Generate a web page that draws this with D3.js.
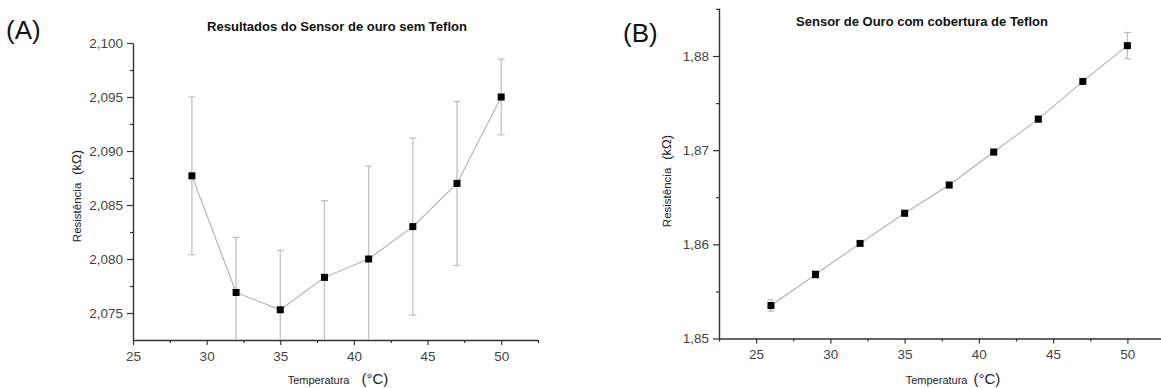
<!DOCTYPE html>
<html>
<head>
<meta charset="utf-8">
<script src="https://cdn.jsdelivr.net/npm/d3@7"></script>
<style>
  html, body { margin: 0; padding: 0; background: #fff; }
  svg { display: block; font-family: Arial, "Liberation Sans", sans-serif; }
</style>
</head>
<body>
<div id="chart"></div>
<script>
// panel A: sensor without Teflon
const tempA = [29, 32, 35, 38, 41, 44, 47, 50];
const resA = [2.0877, 2.0769, 2.0753, 2.0783, 2.0800, 2.0830, 2.0870, 2.0950];
const errA = [0.0073, 0.0051, 0.0055, 0.0071, 0.0086, 0.0082, 0.0076, 0.0035];
const yTicksA = [2.075, 2.080, 2.085, 2.090, 2.095, 2.100];
const xTicksA = [25, 30, 35, 40, 45, 50];

// panel B: sensor with Teflon cover
const tempB = [26, 29, 32, 35, 38, 41, 44, 47, 50];
const resB = [1.8535, 1.8568, 1.8601, 1.8633, 1.8663, 1.8698, 1.8733, 1.8773, 1.8811];
const errB = [0.0006, 0.0004, 0.0002, 0.0003, 0.0003, 0.0003, 0.0003, 0.0003, 0.0014];
const yTicksB = [1.85, 1.86, 1.87, 1.88];
const xTicksB = [25, 30, 35, 40, 45, 50];

const W = 1161, H = 388;
const fmtComma = (digits) => d => d.toFixed(digits).replace('.', ',');

const svg = d3.select('#chart').append('svg')
  .attr('width', W)
  .attr('height', H);

function drawPanel(p) {
  const x = d3.scaleLinear().domain(p.xDomain).range([p.left, p.right]);
  const y = d3.scaleLinear().domain(p.yDomain).range([p.bottom, p.top]);

  const g = svg.append('g');

  // clip marks to plotting area (error bars run below the axis in A)
  const clipId = 'clip-' + p.id;
  g.append('clipPath').attr('id', clipId)
    .append('rect')
    .attr('x', p.left).attr('y', 0)
    .attr('width', p.right - p.left).attr('height', p.bottom);

  // x axis with major + minor ticks
  const xMinor = d3.range(p.xDomain[0], p.xDomain[1] + 0.01, 2.5).filter(v => !p.xTicks.includes(v));
  g.append('g')
    .attr('transform', `translate(0,${p.bottom})`)
    .call(d3.axisBottom(x).tickValues(xMinor).tickSize(3).tickFormat(''))
    .call(a => a.select('.domain').remove())
    .call(a => a.selectAll('line').attr('stroke', '#333').attr('stroke-width', 1.2));
  g.append('g')
    .attr('transform', `translate(0,${p.bottom})`)
    .call(d3.axisBottom(x).tickValues(p.xTicks).tickSize(5).tickSizeOuter(0).tickPadding(6))
    .call(a => a.select('.domain').attr('stroke', '#333').attr('stroke-width', 1.4))
    .call(a => a.selectAll('line').attr('stroke', '#333').attr('stroke-width', 1.2))
    .call(a => a.selectAll('text').attr('fill', '#444').style('font-size', '13.5px'));

  // y axis with major + minor ticks
  const yStep = p.yTicks[1] - p.yTicks[0];
  const yMinor = p.yTicks.map(v => v + yStep / 2).filter(v => v < p.yDomain[1]);
  g.append('g')
    .attr('transform', `translate(${p.left},0)`)
    .call(d3.axisLeft(y).tickValues(yMinor).tickSize(3).tickFormat(''))
    .call(a => a.select('.domain').remove())
    .call(a => a.selectAll('line').attr('stroke', '#333').attr('stroke-width', 1.2));
  g.append('g')
    .attr('transform', `translate(${p.left},0)`)
    .call(d3.axisLeft(y).tickValues(p.yTicks).tickSize(6).tickSizeOuter(0).tickPadding(4)
      .tickFormat(fmtComma(p.yDigits)))
    .call(a => a.select('.domain').attr('stroke', '#333').attr('stroke-width', 1.4))
    .call(a => a.selectAll('line').attr('stroke', '#333').attr('stroke-width', 1.2))
    .call(a => a.selectAll('text').attr('fill', '#444').style('font-size', '13.5px'));

  const data = p.xs.map((t, i) => ({ t, r: p.ys[i], e: p.errs[i] }));
  const marks = g.append('g').attr('clip-path', `url(#${clipId})`);

  // error bars
  const eb = marks.append('g').attr('stroke', '#bdbdbd').attr('stroke-width', 1.2);
  eb.selectAll('line.v').data(data).join('line').attr('class', 'v')
    .attr('x1', d => x(d.t)).attr('x2', d => x(d.t))
    .attr('y1', d => y(d.r + d.e)).attr('y2', d => y(d.r - d.e));
  eb.selectAll('line.top').data(data).join('line').attr('class', 'top')
    .attr('x1', d => x(d.t) - 3.5).attr('x2', d => x(d.t) + 3.5)
    .attr('y1', d => y(d.r + d.e)).attr('y2', d => y(d.r + d.e));
  eb.selectAll('line.bot').data(data).join('line').attr('class', 'bot')
    .attr('x1', d => x(d.t) - 3.5).attr('x2', d => x(d.t) + 3.5)
    .attr('y1', d => y(d.r - d.e)).attr('y2', d => y(d.r - d.e));

  // connecting line
  marks.append('path')
    .datum(data)
    .attr('fill', 'none')
    .attr('stroke', '#b0b0b0')
    .attr('stroke-width', 1.1)
    .attr('d', d3.line().x(d => x(d.t)).y(d => y(d.r)));

  // square markers
  marks.selectAll('rect.pt').data(data).join('rect').attr('class', 'pt')
    .attr('x', d => x(d.t) - 3.5).attr('y', d => y(d.r) - 3.5)
    .attr('width', 7).attr('height', 7)
    .attr('fill', '#000');

  // title
  g.append('text')
    .attr('x', p.titleX).attr('y', p.titleY)
    .attr('text-anchor', 'middle')
    .style('font-size', '13px').style('font-weight', 'bold')
    .attr('fill', '#111')
    .text(p.title);

  // panel letter
  g.append('text')
    .attr('x', p.letterX).attr('y', p.letterY)
    .style('font-size', '26px')
    .attr('fill', '#111')
    .text(p.letter);

  // y label
  const yl = g.append('text')
    .attr('transform', `translate(${p.yLabelX},${p.yLabelY}) rotate(-90)`)
    .attr('text-anchor', 'middle')
    .attr('fill', '#222');
  yl.append('tspan').style('font-size', '11.5px').text('Resistência');
  yl.append('tspan').attr('dx', 8).style('font-size', '13px').text('(kΩ)');

  // x label
  const xl = g.append('text')
    .attr('x', p.xLabelX).attr('y', p.xLabelY)
    .attr('text-anchor', 'middle')
    .attr('fill', '#222');
  xl.append('tspan').style('font-size', '11px').text('Temperatura');
  xl.append('tspan').attr('dx', p.xLabelGap).style('font-size', '15px').text('(°C)');
}

drawPanel({
  id: 'a', letter: '(A)', title: 'Resultados do Sensor de ouro sem Teflon',
  xs: tempA, ys: resA, errs: errA, xTicks: xTicksA, yTicks: yTicksA, yDigits: 3,
  xDomain: [25, 52.5], yDomain: [2.0725, 2.100],
  left: 133, right: 538, top: 43, bottom: 340,
  titleX: 337, titleY: 31, letterX: 6, letterY: 39,
  yLabelX: 81, yLabelY: 196, xLabelX: 338, xLabelY: 384, xLabelGap: 12
});

drawPanel({
  id: 'b', letter: '(B)', title: 'Sensor de Ouro com cobertura de Teflon',
  xs: tempB, ys: resB, errs: errB, xTicks: xTicksB, yTicks: yTicksB, yDigits: 2,
  xDomain: [22.5, 52.5], yDomain: [1.85, 1.8851],
  left: 719, right: 1164.5, top: 8, bottom: 338.5,
  titleX: 922, titleY: 26, letterX: 623, letterY: 42,
  yLabelX: 671, yLabelY: 181, xLabelX: 953, xLabelY: 384, xLabelGap: 6
});
</script>
</body>
</html>
